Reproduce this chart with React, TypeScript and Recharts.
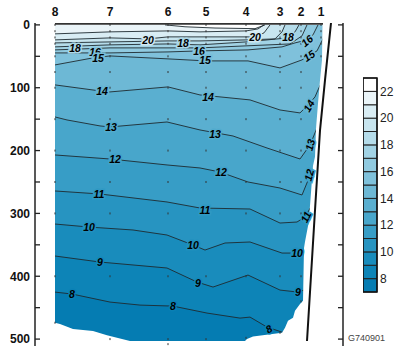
import React from 'react';
import { ComposedChart, Area, Line, Scatter, XAxis, YAxis, ReferenceArea } from 'recharts';

type P = [number, number];

// station labels and their along-section positions
const STATIONS = ['8', '7', '6', '5', '4', '3', '2', '1'];
const STATION_D = [0, 55, 113, 151, 191, 225, 246, 266];
const STATION_MAX = [474, 500, 508, 500, 498, 490, 440, 50];
const SAMPLE_DEPTHS = [0, 10, 20, 30, 50, 75, 100, 150, 200, 250, 300, 400, 500];
const DEPTH_TICKS = [0, 50, 100, 150, 200, 250, 300, 350, 400, 450, 500];
const COLORBAR_TICKS = [8, 10, 12, 14, 16, 18, 20, 22];
const COLORBAR_STEPS = [7, 8, 9, 10, 11, 12, 13, 14, 15, 16, 17, 18, 19, 20, 21, 22];

// band colour for temperature interval [T, T+1]
const BAND: Record<number, string> = {
  22: '#ffffff', 21: '#eaf4f8', 20: '#d9edf4', 19: '#c8e5ef', 18: '#b5dcea',
  17: '#a2d3e5', 16: '#90cae0', 15: '#7fc1db', 14: '#6db8d5', 13: '#5aafd0',
  12: '#48a6cb', 11: '#379dc6', 10: '#2794c1', 9: '#198cbc', 8: '#0d84b7', 7: '#057cb2',
};

// isotherms: [distance, depth]
const ISO_22: P[] = [[0, 0], [110, 0], [130, 3], [160, 5], [200, 6], [205, 3], [210, 0], [270, 0]];
const ISO_21: P[] = [[0, 14.3], [55, 11.1], [113, 9.6], [145, 11.1], [191, 9.6], [203, 6.4], [209, 0], [270, 0]];
const ISO_20: P[] = [[0, 23.9], [55, 20.7], [93, 22.3], [113, 19.1], [145, 19.1], [191, 19.1], [200, 19.1], [209, 12.7], [215, 0], [270, 0]];
const ISO_19: P[] = [[0, 28.7], [55, 27.1], [113, 25.5], [145, 25.5], [191, 23.9], [220, 22.3], [227, 11.1], [230, 0], [270, 0]];
const ISO_18: P[] = [[0, 35.0], [55, 31.8], [113, 30.3], [145, 31.8], [191, 27.1], [233, 20.7], [240, 11.1], [244, 0], [270, 0]];
const ISO_17: P[] = [[0, 39.8], [55, 36.6], [113, 36.6], [145, 36.6], [191, 33.4], [235, 30.3], [247, 17.5], [252, 0], [270, 0]];
const ISO_16: P[] = [[0, 44.6], [55, 44.6], [113, 43.0], [145, 41.4], [193, 39.8], [227, 35.0], [240, 28.7], [252, 23.9], [258, 15.9], [263, 0], [270, 0]];
const ISO_15: P[] = [[0, 63.7], [38, 52.5], [55, 49.4], [113, 54.1], [151, 57.3], [193, 57.3], [225, 68.5], [247, 55.7], [262, 41.4], [265, 31.8], [270, 15.9]];
const ISO_14: P[] = [[0, 95.5], [45, 105.1], [55, 106.7], [113, 98.7], [145, 111.5], [165, 114.6], [195, 119.4], [225, 135.4], [245, 140.1], [253, 127.4], [260, 114.6], [263, 103.5], [270, 79.6]];
const ISO_13: P[] = [[0, 146.5], [12, 151.3], [45, 160.8], [55, 162.4], [112, 154.5], [145, 167.2], [178, 176.8], [212, 195.9], [245, 213.4], [255, 191.1], [262, 164.0], [270, 135.4]];
const ISO_12: P[] = [[0, 207.0], [55, 213.4], [112, 222.9], [145, 227.7], [165, 234.1], [193, 250.0], [225, 259.6], [247, 270.7], [254, 243.6], [260, 222.9], [270, 183.1]];
const ISO_11: P[] = [[0, 264.3], [45, 269.1], [112, 281.8], [145, 291.4], [195, 293.0], [225, 315.3], [242, 313.7], [250, 305.7], [257, 286.6], [270, 246.8]];
const ISO_10: P[] = [[0, 316.9], [34, 321.7], [78, 326.4], [112, 334.4], [138, 350.3], [150, 358.3], [170, 347.1], [195, 345.5], [227, 363.1], [242, 363.1], [251, 361.5], [265, 350.3]];
const ISO_9: P[] = [[0, 367.8], [45, 377.4], [112, 386.9], [142, 409.2], [158, 417.2], [193, 398.1], [225, 422.0], [243, 425.2], [249, 422.0], [265, 414.0]];
const ISO_8: P[] = [[0, 425.2], [17, 428.3], [55, 441.1], [85, 445.9], [118, 447.5], [152, 458.6], [185, 466.6], [195, 465.0], [212, 480.9], [227, 488.9], [245, 501.6]];

const ISOLINES: { level: number; pts: P[] }[] = [
  { level: 22, pts: ISO_22 }, { level: 21, pts: ISO_21 }, { level: 20, pts: ISO_20 },
  { level: 19, pts: ISO_19 }, { level: 18, pts: ISO_18 }, { level: 17, pts: ISO_17 },
  { level: 16, pts: ISO_16 }, { level: 15, pts: ISO_15 }, { level: 14, pts: ISO_14 },
  { level: 13, pts: ISO_13 }, { level: 12, pts: ISO_12 }, { level: 11, pts: ISO_11 },
  { level: 10, pts: ISO_10 }, { level: 9, pts: ISO_9 }, { level: 8, pts: ISO_8 },
];

// lower / right edge of the sampled section (below it: no data)
const SECTION_EDGE: P[] = [
  [0, 474], [5, 476], [18, 484], [38, 487], [52, 494], [75, 503], [190, 503], [192, 500], [198, 496],
  [227, 490], [230, 482], [233, 471], [238, 466], [240, 455], [245, 444], [248, 439], [249, 355],
  [250, 345], [253, 320], [254, 311], [255, 288], [258, 224], [260, 210], [261, 165], [263, 125],
  [265, 88], [267, 56], [267.5, 0], [275, 0],
];
const SLOPE: P[] = [[276, -3], [270, 88], [265, 168], [260, 295], [252, 503]];
const SURFACE: P[] = [[0, -2], [268, -2]];

// contour labels: level, distance, depth, angle
const LABELS: [number, number, number, number][] = [
  [20, 93, 23.9, 0], [20, 200, 19.1, 0],
  [18, 20, 36.6, 0], [18, 128, 28.7, 0], [18, 233, 19.1, 0],
  [16, 40, 43.0, 0], [16, 144, 41.4, 0], [16, 252, 25.5, -40],
  [15, 43, 52.5, 0], [15, 150, 55.7, 0], [15, 254, 49.4, -35],
  [14, 47, 105.1, 0], [14, 153, 114.6, 0], [14, 254, 129, -60],
  [13, 56, 162.4, 0], [13, 160, 173.6, 0], [13, 255, 191.1, -75],
  [12, 60, 213.4, 0], [12, 166, 234.1, 0], [12, 254, 238.9, -75],
  [11, 44, 269.1, 0], [11, 150, 294.6, 0], [11, 251, 305.7, -65],
  [10, 34, 321.7, 0], [10, 138, 350.3, 0], [10, 242, 363.1, 0],
  [9, 45, 377.4, 0], [9, 143, 410.8, 0], [9, 243, 425.2, 0],
  [8, 17, 428.3, 0], [8, 118, 447.5, 0], [8, 214, 484.1, -30],
];

const FONT = '"Liberation Sans", Arial, sans-serif';
const DOMAIN_MAX = 511;

const toData = (pts: P[]) => pts.map(([d, v]) => ({ d, v }));

function trimSurface(pts: P[]): P[] {
  let s = 0;
  while (s < pts.length - 1 && pts[s][1] <= 0 && pts[s + 1][1] <= 0) s++;
  let e = pts.length - 1;
  while (e > 0 && pts[e][1] <= 0 && pts[e - 1][1] <= 0) e--;
  return pts.slice(s, e + 1);
}

function mix(a: string, b: string) {
  const pa = [1, 3, 5].map((i) => parseInt(a.slice(i, i + 2), 16));
  const pb = [1, 3, 5].map((i) => parseInt(b.slice(i, i + 2), 16));
  return '#' + pa.map((x, i) => Math.round((x + pb[i]) / 2).toString(16).padStart(2, '0')).join('');
}

const labelData = LABELS.map(([lvl, d, v, a]) => ({ d, v, t: String(lvl), a, bg: mix(BAND[lvl - 1], BAND[Math.min(lvl, 22)]) }));

const sampleData = STATION_D.flatMap((d, i) => {
  const ds = SAMPLE_DEPTHS.filter((z) => z < STATION_MAX[i] - 5);
  return [...ds, STATION_MAX[i]].map((v) => ({ d, v }));
});

const LabelShape = (props: any) => {
  const { cx, cy, payload } = props;
  if (cx == null || cy == null) return null;
  return (
    <text x={cx} y={cy} dy="0.36em" transform={`rotate(${payload.a} ${cx} ${cy})`} textAnchor="middle"
      fontSize={10.5} fontWeight="bold" fontStyle="italic" fontFamily={FONT} fill="#000"
      stroke={payload.bg} strokeWidth={3} paintOrder="stroke">{payload.t}</text>
  );
};

const DotShape = (props: any) => {
  const { cx, cy } = props;
  if (cx == null || cy == null) return null;
  return <rect x={cx - 0.5} y={cy - 1} width={1} height={2} fill="#333" />;
};

const LeftTick = (props: any) => {
  const { x, y, payload } = props;
  const v = payload.value;
  return (
    <g>
      <line x1={x} x2={x + 5} y1={y} y2={y} stroke="#222" strokeWidth={1.3} />
      {v % 100 === 0 && (
        <text x={x - 5} y={y} dy="0.36em" textAnchor="end" fontSize={12} fontWeight="bold" fontFamily={FONT} fill="#111">{v}</text>
      )}
    </g>
  );
};

const RightTick = (props: any) => {
  const { x, y } = props;
  return <line x1={x - 5} x2={x} y1={y} y2={y} stroke="#222" strokeWidth={1.3} />;
};

const TopTick = (props: any) => {
  const { x, y, payload } = props;
  const i = STATION_D.indexOf(payload.value);
  return (
    <text x={x} y={y - 7} textAnchor="middle" fontSize={12} fontWeight="bold" fontFamily={FONT} fill="#111">{STATIONS[i]}</text>
  );
};

const CbTick = (props: any) => {
  const { x, y, payload } = props;
  return (
    <text x={x} y={y} dy="0.36em" textAnchor="start" fontSize={12} fontFamily={FONT} fill="#222">{payload.value}</text>
  );
};

export default function App() {
  return (
    <div style={{ position: 'relative', width: 400, height: 354, background: '#fff' }}>
      <style>{'body{margin:0}'}</style>
      <ComposedChart width={400} height={354} margin={{ top: 3, right: 0, bottom: 8, left: 0 }}>
        <XAxis xAxisId="x" dataKey="d" type="number" orientation="top" domain={[-20, 288]} allowDataOverflow
          ticks={STATION_D} interval={0} height={20} axisLine={false} tickLine={false} tickSize={0} tickMargin={0} tick={<TopTick />} />
        <YAxis yAxisId="l" dataKey="v" type="number" reversed domain={[-3, DOMAIN_MAX]} allowDataOverflow ticks={DEPTH_TICKS}
          interval={0} width={35} tickSize={0} tickMargin={0} tickLine={false} axisLine={{ stroke: '#222', strokeWidth: 1.5 }} tick={<LeftTick />} />
        <YAxis yAxisId="r" orientation="right" type="number" reversed domain={[-3, DOMAIN_MAX]} allowDataOverflow ticks={DEPTH_TICKS}
          interval={0} width={57} tickSize={0} tickMargin={0} tickLine={false} axisLine={{ stroke: '#222', strokeWidth: 1.5 }} tick={<RightTick />} />

        <Area xAxisId="x" yAxisId="l" data={toData([[0, 0], [270, 0]])} dataKey="v" type="linear" baseValue={DOMAIN_MAX}
          fill={BAND[22]} fillOpacity={1} stroke="none" isAnimationActive={false} dot={false} activeDot={false} />
        {ISOLINES.map((iso) => (
          <Area key={'a' + iso.level} xAxisId="x" yAxisId="l" data={toData(iso.pts)} dataKey="v" type="linear" baseValue={DOMAIN_MAX}
            fill={BAND[iso.level - 1]} fillOpacity={1} stroke="none" isAnimationActive={false} dot={false} activeDot={false} />
        ))}
        {ISOLINES.map((iso) => (
          <Area key={'l' + iso.level} xAxisId="x" yAxisId="l" data={toData(trimSurface(iso.pts))} dataKey="v" type="linear"
            baseValue={DOMAIN_MAX} fill="none" stroke="#1e2a30" strokeWidth={0.9} dot={false} activeDot={false} isAnimationActive={false} />
        ))}
        <Area xAxisId="x" yAxisId="l" data={toData(SECTION_EDGE)} dataKey="v" type="linear" baseValue={DOMAIN_MAX}
          fill="#ffffff" fillOpacity={1} stroke="none" isAnimationActive={false} dot={false} activeDot={false} />
        <Line xAxisId="x" yAxisId="l" data={toData(SURFACE)} dataKey="v" type="linear" stroke="#333" strokeWidth={2.2}
          dot={false} activeDot={false} isAnimationActive={false} />
        <Line xAxisId="x" yAxisId="l" data={toData(SLOPE)} dataKey="v" type="linear" stroke="#111" strokeWidth={2}
          dot={false} activeDot={false} isAnimationActive={false} />
        <Scatter xAxisId="x" yAxisId="l" data={sampleData} dataKey="v" shape={<DotShape />} isAnimationActive={false} />
        <Scatter xAxisId="x" yAxisId="l" data={labelData} dataKey="v" shape={<LabelShape />} isAnimationActive={false} />
      </ComposedChart>

      <div style={{ position: 'absolute', left: 363, top: 77 }}>
        <ComposedChart width={44} height={216} margin={{ top: 1, right: 0, bottom: 1, left: 0 }}
          data={[{ x: 0, y: 7 }, { x: 1, y: 23 }]}>
          <XAxis dataKey="x" type="number" domain={[0, 1]} hide />
          <YAxis dataKey="y" type="number" orientation="right" domain={[7, 23]} ticks={COLORBAR_TICKS} interval={0}
            width={30} axisLine={false} tickLine={false} tickSize={0} tickMargin={3} tick={<CbTick />} />
          <Line dataKey="y" stroke="none" dot={false} activeDot={false} isAnimationActive={false} />
          {COLORBAR_STEPS.map((t) => (
            <ReferenceArea key={t} y1={t} y2={t + 1} fill={BAND[t]} fillOpacity={1} stroke="#222" strokeWidth={1} ifOverflow="visible" />
          ))}
          <ReferenceArea y1={7} y2={23} fill="none" stroke="#111" strokeWidth={1.5} ifOverflow="visible" />
        </ComposedChart>
      </div>

      <div style={{ position: 'absolute', left: 348, top: 333, fontSize: 9, fontFamily: FONT, color: '#444' }}>G740901</div>
    </div>
  );
}
